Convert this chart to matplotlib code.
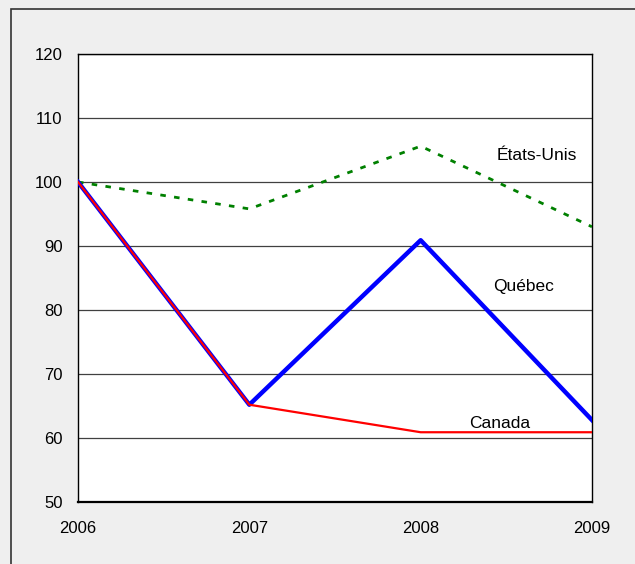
import matplotlib
matplotlib.use("Agg")
import matplotlib.pyplot as plt
from matplotlib.patches import Rectangle

plt.rcParams['font.family'] = ['Liberation Sans', 'DejaVu Sans']

years = [2006, 2007, 2008, 2009]
quebec = [100, 65.2, 90.9, 62.8]
canada = [100, 65.2, 60.9, 60.9]
etats_unis = [100, 95.8, 105.6, 93.0]
yticks = [50, 60, 70, 80, 90, 100, 110, 120]

fig = plt.figure(figsize=(6.35, 5.64), dpi=100, facecolor='#efefef')
# frame around the figure (only left/top visible in the original)
fig.patches.append(Rectangle((11/635, -0.1), 1.2, 1 - 9/564 + 0.1, transform=fig.transFigure,
                             fill=False, edgecolor='#333333', linewidth=1.2))

ax = fig.add_axes([78/635, 1 - 502/564, 514/635, 448/564])
ax.set_facecolor('white')

ax.plot(years, etats_unis, color='#008000', linestyle=(0, (2, 3)), linewidth=2, zorder=3)
ax.plot(years, quebec, color='#0000ff', linewidth=3.2, zorder=4)
ax.plot(years, canada, color='#ff0000', linewidth=1.6, zorder=5)

ax.text(2008.68, 104.2, 'États-Unis', ha='center', va='center', fontsize=12.5)
ax.text(2008.6, 83.6, 'Québec', ha='center', va='center', fontsize=12.5)
ax.text(2008.46, 62.3, 'Canada', ha='center', va='center', fontsize=12.5)

ax.set_xlim(2006, 2009)
ax.set_ylim(50, 120)
ax.set_xticks(years)
ax.set_xticklabels([str(y) for y in years])
ax.set_yticks(yticks)
ax.yaxis.grid(True, color='#404040', linewidth=0.9)
ax.set_axisbelow(True)
ax.tick_params(axis='x', length=0, pad=14, labelsize=12)
ax.tick_params(axis='y', length=0, pad=11, labelsize=12)
for s in ax.spines.values():
    s.set_color('black')
    s.set_linewidth(1)
ax.spines['bottom'].set_linewidth(1.6)

fig.savefig('out.png', dpi=100, facecolor=fig.get_facecolor())
